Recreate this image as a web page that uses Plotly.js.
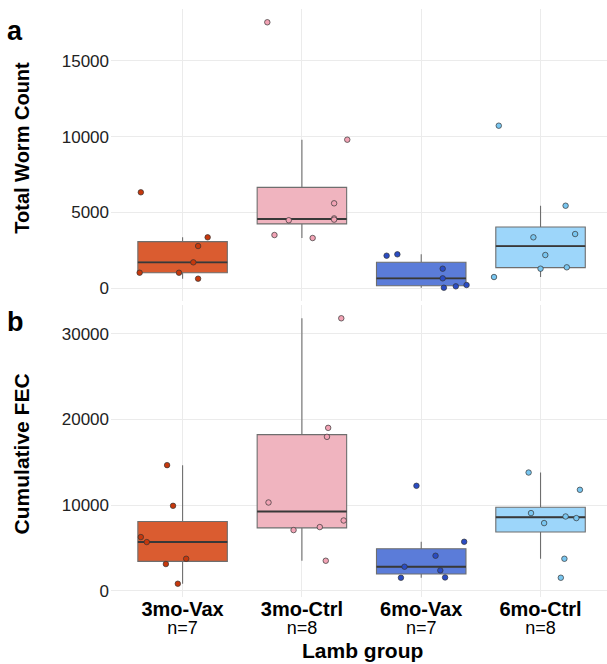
<!DOCTYPE html>
<html>
<head>
<meta charset="utf-8">
<script src="https://cdn.plot.ly/plotly-3.0.1.min.js"></script>
<style>html,body{margin:0;padding:0;background:#fff;}#chart{width:607px;height:664px;}</style>
</head>
<body>
<div id="chart"></div>
<script>
// ---- data ----
var groups = ['3mo-Vax', '3mo-Ctrl', '6mo-Vax', '6mo-Ctrl'];
var groupN = ['n=7', 'n=8', 'n=7', 'n=8'];

// panel a: Total worm count
var worm3Vax  = [6324, 3350, 2775, 1698, 1011, 1011, 617];
var worm3Ctrl = [17557, 9800, 5597, 4480, 4600, 4520, 3502, 3304];
var worm6Vax  = [2136, 2227, 1277, 641, 20, 112, 198];
var worm6Ctrl = [10725, 5438, 3568, 3350, 2181, 1277, 1368, 727];

// horizontal jitter of each point (category units)
var wormJit3Vax  = [-0.35, 0.21, 0.13, 0.09, -0.36, -0.03, 0.13];
var wormJit3Ctrl = [-0.29, 0.38, 0.27, -0.11, 0.27, 0.27, -0.23, 0.09];
var wormJit6Vax  = [-0.29, -0.20, 0.18, 0.18, 0.19, 0.29, 0.38];
var wormJit6Ctrl = [-0.35, 0.21, 0.29, -0.06, 0.04, 0.0, 0.22, -0.39];

// panel b: Cumulative FEC
var fec3Vax  = [14669, 9920, 6267, 5683, 3734, 3116, 817];
var fec3Ctrl = [31824, 19022, 17972, 10305, 8204, 7084, 7434, 3501];
var fec6Vax  = [12254, 5718, 4085, 2801, 2369, 1517, 1552];
var fec6Ctrl = [13806, 11787, 9068, 8671, 8484, 7900, 3734, 1517];

var fecJit3Vax  = [-0.13, -0.08, -0.35, -0.30, 0.03, -0.14, -0.04];
var fecJit3Ctrl = [0.33, 0.22, 0.21, -0.28, 0.35, -0.07, 0.15, 0.20];
var fecJit6Vax  = [-0.04, 0.36, 0.12, -0.14, 0.16, -0.17, 0.20];
var fecJit6Ctrl = [-0.10, 0.33, -0.08, 0.21, 0.30, 0.03, 0.20, 0.17];

var yTitleA = 'Total Worm Count';
var yTitleB = 'Cumulative FEC';
var xTitle  = 'Lamb group';

// ---- styles ----
var boxFill  = ['#DA5C30', '#F0B4BF', '#5B7CD9', '#9DD6FA'];
var ptFill   = ['#C7380C', '#F2A3B5', '#2A4CC4', '#79C6F0'];

function quant(arr, p) {
  var s = arr.slice().sort(function(a, b) { return a - b; });
  var h = (s.length - 1) * p;
  var lo = Math.floor(h), hi = Math.ceil(h);
  return s[lo] + (h - lo) * (s[hi] - s[lo]);
}
function stats(arr) {
  var q1 = quant(arr, 0.25), med = quant(arr, 0.5), q3 = quant(arr, 0.75);
  var iqr = q3 - q1;
  var inside = arr.filter(function(v) { return v >= q1 - 1.5 * iqr && v <= q3 + 1.5 * iqr; });
  return {q1: q1, med: med, q3: q3,
          lo: Math.min.apply(null, inside), hi: Math.max.apply(null, inside)};
}

var traces = [];
function addPanel(values, jits, xa, ya) {
  var i, st;
  for (i = 0; i < values.length; i++) {
    st = stats(values[i]);
    traces.push({
      type: 'box', x: [i], q1: [st.q1], median: [st.med], q3: [st.q3],
      lowerfence: [st.lo], upperfence: [st.hi],
      width: 0.75, whiskerwidth: 0, boxpoints: false,
      fillcolor: boxFill[i], line: {color: '#6E6E6E', width: 1.1},
      xaxis: xa, yaxis: ya, showlegend: false, hoverinfo: 'skip'
    });
  }
  // darker, thicker median bar (a flat box at the median)
  for (i = 0; i < values.length; i++) {
    st = stats(values[i]);
    traces.push({
      type: 'box', x: [i], q1: [st.med], median: [st.med], q3: [st.med],
      lowerfence: [st.med], upperfence: [st.med],
      width: 0.75, whiskerwidth: 0, boxpoints: false,
      fillcolor: 'rgba(0,0,0,0)', line: {color: '#383838', width: 1.9},
      xaxis: xa, yaxis: ya, showlegend: false, hoverinfo: 'skip'
    });
  }
  for (var j = 0; j < values.length; j++) {
    traces.push({
      type: 'scatter', mode: 'markers',
      x: jits[j].map(function(d) { return j + d; }), y: values[j],
      marker: {size: 5.5, color: ptFill[j], line: {color: '#333333', width: 0.7}},
      xaxis: xa, yaxis: ya, showlegend: false, hoverinfo: 'skip'
    });
  }
}
addPanel([worm3Vax, worm3Ctrl, worm6Vax, worm6Ctrl],
         [wormJit3Vax, wormJit3Ctrl, wormJit6Vax, wormJit6Ctrl], 'x', 'y');
addPanel([fec3Vax, fec3Ctrl, fec6Vax, fec6Ctrl],
         [fecJit3Vax, fecJit3Ctrl, fecJit6Vax, fecJit6Ctrl], 'x2', 'y2');

var tickText = groups.map(function(g, i) {
  return '<span style="font-size:20px"><b>' + g + '</b></span><br><span style="font-size:18px">' + groupN[i] + '</span>';
});

var font = 'Liberation Sans, Arial, Helvetica, sans-serif';
var xRange = [-0.6, 3.557];
var gridC = '#EBEBEB';

var layout = {
  width: 607, height: 664,
  margin: {l: 111, r: 0, t: 9, b: 67},
  paper_bgcolor: '#ffffff', plot_bgcolor: '#ffffff',
  font: {family: font, color: '#000'},
  xaxis: {domain: [0, 1], anchor: 'y', range: xRange, tickvals: [0, 1, 2, 3],
          showticklabels: false, showgrid: true, gridcolor: gridC, gridwidth: 1,
          zeroline: false, showline: false, ticks: ''},
  yaxis: {domain: [0.5034, 1], anchor: 'x', range: [-857, 18434],
          tickvals: [0, 5000, 10000, 15000], ticktext: ['0', '5000', '10000', '15000'],
          showgrid: true, gridcolor: gridC, gridwidth: 1, zeroline: false, ticks: '',
          tickfont: {size: 17, color: '#222'}, ticklabelstandoff: 1},
  xaxis2: {domain: [0, 1], anchor: 'y2', range: xRange, tickvals: [0, 1, 2, 3], ticktext: tickText,
           showgrid: true, gridcolor: gridC, gridwidth: 1, zeroline: false, ticks: '',
           tickfont: {size: 14, color: '#000'}, ticklabelstandoff: 4},
  yaxis2: {domain: [0, 0.4966], anchor: 'x2', range: [-733, 33374],
           tickvals: [0, 10000, 20000, 30000], ticktext: ['0', '10000', '20000', '30000'],
           showgrid: true, gridcolor: gridC, gridwidth: 1, zeroline: false, ticks: '',
           tickfont: {size: 17, color: '#222'}, ticklabelstandoff: 1},
  annotations: [
    {text: '<b>a</b>', xref: 'paper', yref: 'paper', x: -0.2137, y: 0.9626,
     xanchor: 'left', yanchor: 'middle', showarrow: false, font: {size: 27, color: '#000'}},
    {text: '<b>b</b>', xref: 'paper', yref: 'paper', x: -0.2137, y: 0.4677,
     xanchor: 'left', yanchor: 'middle', showarrow: false, font: {size: 27, color: '#000'}},
    {text: '<b>' + yTitleA + '</b>', xref: 'paper', yref: 'paper', x: -0.180, y: 0.7636,
     xanchor: 'center', yanchor: 'middle', textangle: -90, showarrow: false,
     font: {size: 20, color: '#000'}},
    {text: '<b>' + yTitleB + '</b>', xref: 'paper', yref: 'paper', x: -0.180, y: 0.2437,
     xanchor: 'center', yanchor: 'middle', textangle: -90, showarrow: false,
     font: {size: 21, color: '#000'}},
    {text: '<b>' + xTitle + '</b>', xref: 'paper', yref: 'paper', x: 0.508, y: -0.0918,
     xanchor: 'center', yanchor: 'middle', showarrow: false, font: {size: 21, color: '#000'}}
  ]
};

Plotly.newPlot('chart', traces, layout, {staticPlot: true, displayModeBar: false});
</script>
</body>
</html>
